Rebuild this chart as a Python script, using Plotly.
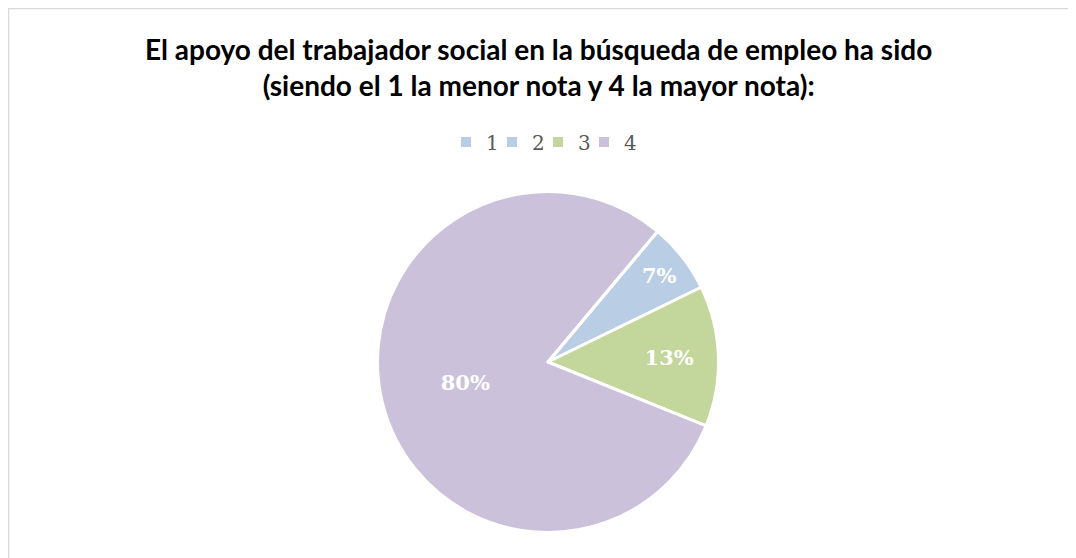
import plotly.graph_objects as go

categories = ["1", "2", "3", "4"]
counts = [0, 1, 2, 12]
colors = ["#B9CDE5", "#B9CDE5", "#C3D69B", "#CCC1DA"]

W, H = 1076, 558
OFF = 8  # page body margin
cx, cy, r = 548 - OFF, 362 - OFF, 170.5

# an invisible trailing legend entry keeps the last legend label from being clipped
labels = categories + [" "]
values = counts + [0]
slice_colors = colors + ["rgba(0,0,0,0)"]

fig = go.Figure(go.Pie(
    labels=labels,
    values=values,
    sort=False,
    direction="clockwise",
    rotation=40,
    marker=dict(colors=slice_colors, line=dict(color="white", width=3)),
    texttemplate="<b>%{percent:.0%}</b>",
    textposition="inside",
    insidetextorientation="horizontal",
    textfont=dict(family="DejaVu Serif", size=21, color="white"),
    hoverinfo="label+percent",
    domain=dict(x=[(cx - r) / W, (cx + r) / W], y=[(H - cy - r) / H, (H - cy + r) / H]),
))

fig.update_layout(
    width=W, height=H,
    margin=dict(l=0, r=0, t=0, b=0),
    paper_bgcolor="white",
    showlegend=True,
    legend=dict(
        orientation="h", x=(561 - OFF) / W, xanchor="center", y=(H - 142 + OFF) / H, yanchor="middle",
        font=dict(family="DejaVu Serif", size=20, color="#595959"),
        itemsizing="constant", traceorder="normal",
        entrywidth=1, entrywidthmode="pixels",
    ),
    annotations=[dict(
        text="<b>El apoyo del trabajador social en la búsqueda de empleo ha sido<br>(siendo el 1 la menor nota y 4 la mayor nota):</b>",
        x=(538 - OFF) / W, y=(H - 66.5 + OFF) / H, xref="paper", yref="paper",
        xanchor="center", yanchor="middle", showarrow=False,
        font=dict(family="Lato", size=28, color="black"),
        align="center",
    )],
    shapes=[
        dict(type="line", xref="paper", yref="paper", x0=0, x1=1, y0=(H - 0.5) / H, y1=(H - 0.5) / H,
             line=dict(color="#D9D9D9", width=1.5)),
        dict(type="line", xref="paper", yref="paper", x0=0.5 / W, x1=0.5 / W, y0=0, y1=1,
             line=dict(color="#D9D9D9", width=1.5)),
    ],
)

fig.write_html("out.html")
